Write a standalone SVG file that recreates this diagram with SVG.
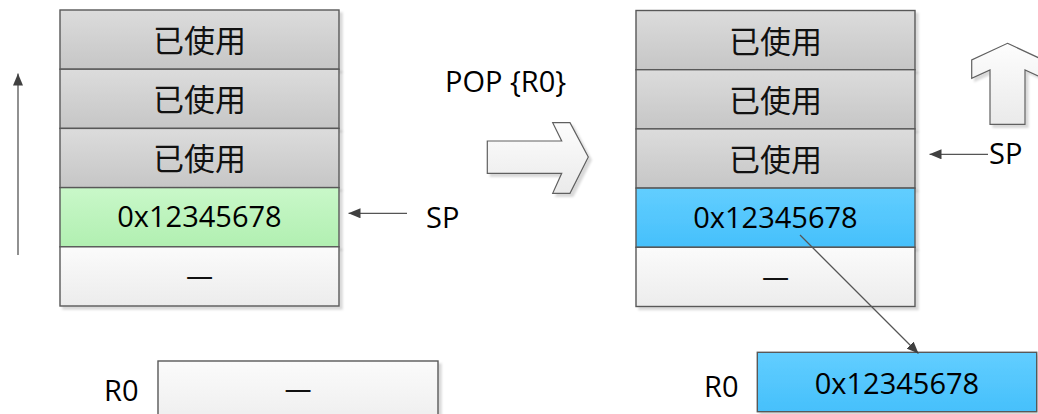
<svg xmlns="http://www.w3.org/2000/svg" width="1038" height="414" viewBox="0 0 1038 414">
<style>
.cell{stroke:#595959;stroke-width:1.4;filter:url(#sh)}
.used{fill:url(#gGray)}
.green{fill:url(#gGreen)}
.blue{fill:url(#gBlue)}
.empty{fill:url(#gWhite)}
.cn{font-family:"Noto Sans CJK SC",sans-serif;font-size:31px;fill:#111;text-anchor:middle}
.lat{font-family:"Open Sans","Liberation Sans",sans-serif;font-size:29px;fill:#000}
.mid{text-anchor:middle}
.conn{stroke:#555;stroke-width:1.3;fill:none}
.big{fill:url(#gArrow);stroke:#606060;stroke-width:1.2;filter:url(#sh)}
</style>
<defs>
<linearGradient id="gGray" x1="0" y1="0" x2="0" y2="1"><stop offset="0" stop-color="#dcdcdc"/><stop offset="1" stop-color="#c6c6c6"/></linearGradient>
<linearGradient id="gGreen" x1="0" y1="0" x2="0" y2="1"><stop offset="0" stop-color="#c9f8c9"/><stop offset="1" stop-color="#b1efb1"/></linearGradient>
<linearGradient id="gBlue" x1="0" y1="0" x2="0" y2="1"><stop offset="0" stop-color="#62ceff"/><stop offset="1" stop-color="#46c0fb"/></linearGradient>
<linearGradient id="gWhite" x1="0" y1="0" x2="0" y2="1"><stop offset="0" stop-color="#fbfbfb"/><stop offset="1" stop-color="#ececec"/></linearGradient>
<linearGradient id="gArrow" x1="0" y1="0" x2="0" y2="1"><stop offset="0" stop-color="#fdfdfd"/><stop offset="1" stop-color="#eaeaea"/></linearGradient>
<filter id="sh" x="-10%" y="-10%" width="130%" height="140%">
<feGaussianBlur in="SourceAlpha" stdDeviation="1"/>
<feOffset dx="2.5" dy="2.5" result="o"/>
<feFlood flood-color="#000" flood-opacity="0.15"/>
<feComposite in2="o" operator="in"/>
<feMerge><feMergeNode/><feMergeNode in="SourceGraphic"/></feMerge>
</filter>
<marker id="ah" viewBox="0 0 12 10" refX="12" refY="5" markerWidth="12" markerHeight="10" markerUnits="userSpaceOnUse" orient="auto">
<path d="M0,0 L12,5 L0,10 Z" fill="#404040"/>
</marker>
</defs>

<g id="left-stack">
<rect class="cell used" x="60" y="10" width="279" height="59.2"/>
<text class="cn" x="199.5" y="52">已使用</text>
<rect class="cell used" x="60" y="69.2" width="279" height="59.2"/>
<text class="cn" x="199.5" y="111.2">已使用</text>
<rect class="cell used" x="60" y="128.4" width="279" height="59.2"/>
<text class="cn" x="199.5" y="170.4">已使用</text>
<rect class="cell green" x="60" y="187.6" width="279" height="59.2"/>
<text class="lat mid" x="199.5" y="227">0x12345678</text>
<rect class="cell empty" x="60" y="246.8" width="279" height="59.2"/>
<text class="cn" x="199.5" y="287">—</text>
</g>

<g id="right-stack">
<rect class="cell used" x="636" y="10.5" width="279" height="59.2"/>
<text class="cn" x="775.5" y="52.5">已使用</text>
<rect class="cell used" x="636" y="69.7" width="279" height="59.2"/>
<text class="cn" x="775.5" y="111.7">已使用</text>
<rect class="cell used" x="636" y="128.9" width="279" height="59.2"/>
<text class="cn" x="775.5" y="170.9">已使用</text>
<rect class="cell blue" x="636" y="188.1" width="279" height="59.2"/>
<text class="lat mid" x="775.5" y="227.5">0x12345678</text>
<rect class="cell empty" x="636" y="247.3" width="279" height="59.2"/>
<text class="cn" x="775.5" y="287.5">—</text>
</g>

<g id="r0-left">
<text class="lat" x="104" y="401">R0</text>
<rect class="cell empty" x="158" y="361" width="280" height="70"/>
<text class="cn" x="298" y="400">—</text>
</g>

<g id="r0-right">
<text class="lat" x="704" y="397">R0</text>
<rect class="cell blue" x="757.3" y="352.3" width="279.4" height="59.4"/>
<text class="lat mid" x="897" y="393.5">0x12345678</text>
</g>

<g id="pop-arrow">
<text class="lat" x="445" y="92">POP {R0}</text>
<path class="big" d="M487.3,141 L561.7,141 L552.7,122.7 L570,122.7 L588.3,157 L570,193.3 L552.7,193.3 L561.7,173.3 L487.3,173.3 Z"/>
</g>

<g id="up-arrow">
<path class="big" d="M1007.5,43.3 L1043.3,60 L1043.3,78.3 L1025,70 L1025,124.3 L990,124.3 L990,70 L971.7,78.3 L971.7,60 Z"/>
</g>

<g id="sp-left">
<text class="lat" x="426" y="228">SP</text>
</g>
<g id="sp-right">
<text class="lat" x="989" y="164">SP</text>
</g>

<g id="connectors">
<line class="conn" x1="18" y1="255" x2="18" y2="73.5" stroke="#808080" marker-end="url(#ah)"/>
<line class="conn" x1="407" y1="213.3" x2="348.5" y2="213.3" marker-end="url(#ah)"/>
<line class="conn" x1="988" y1="154.3" x2="929.5" y2="154.3" marker-end="url(#ah)"/>
<line class="conn" x1="800" y1="235" x2="918.5" y2="353.5" marker-end="url(#ah)"/>
</g>
</svg>
